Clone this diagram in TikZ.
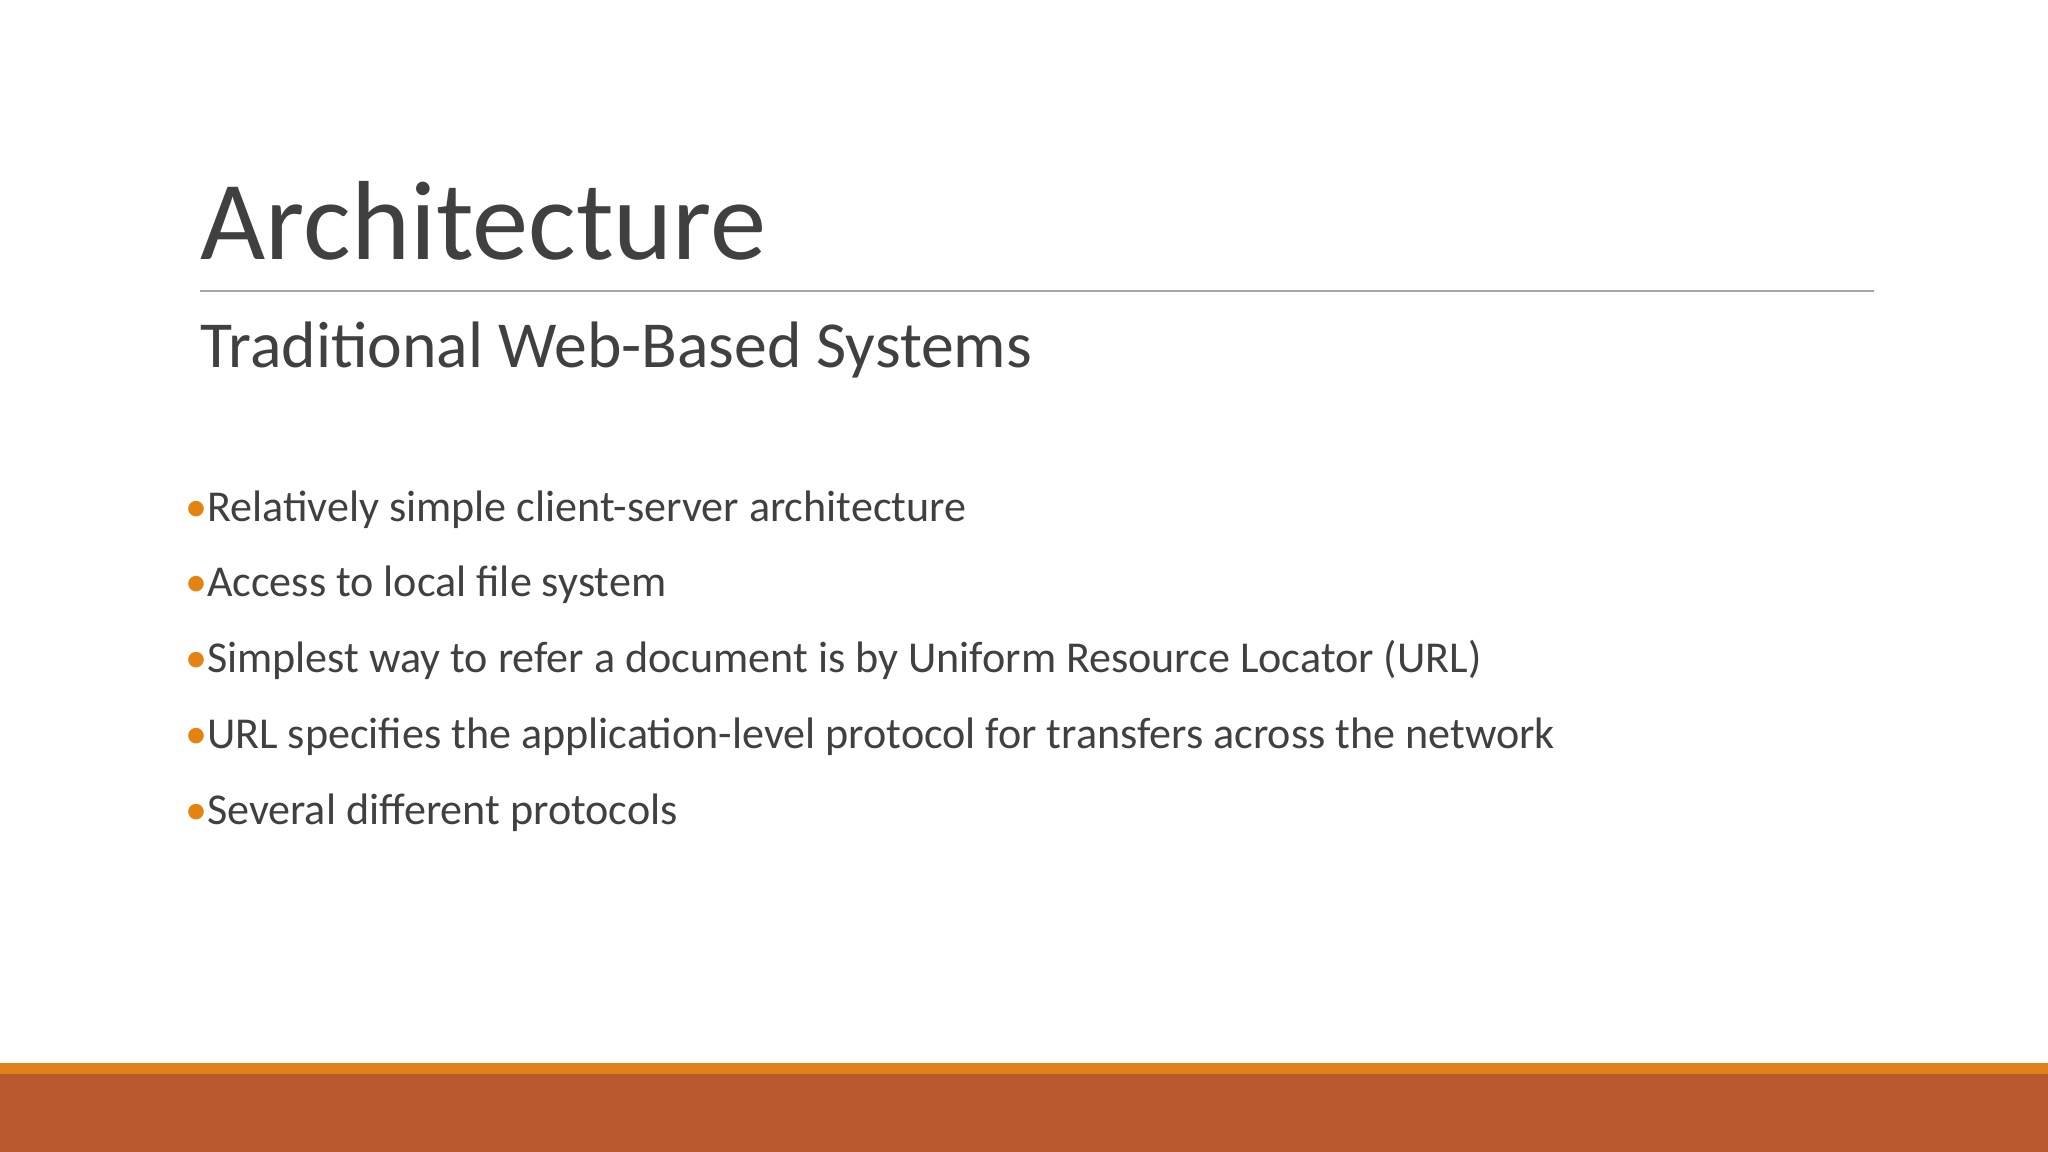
\documentclass[tikz,border=0pt]{standalone}
\usepackage{fontspec}
\setmainfont{Carlito}
\definecolor{txt}{HTML}{404040}
\definecolor{bul}{HTML}{E48312}
\definecolor{barA}{HTML}{E0801A}
\definecolor{barB}{HTML}{BA5830}
\begin{document}
\begin{tikzpicture}[x=0.01cm,y=-0.01cm,
  title/.style={anchor=base west,inner sep=0,text=txt,font=\fontsize{24.5}{28}\selectfont\addfontfeature{LetterSpace=0}},
  sub/.style={anchor=base west,inner sep=0,text=txt,font=\fontsize{14.3}{17}\selectfont},
  item/.style={anchor=base west,inner sep=0,text=txt,font=\fontsize{9.6}{12}\selectfont}]
\useasboundingbox (0,0) rectangle (1568,882);
\fill[white] (0,0) rectangle (1568,882);
\fill[barA] (0,814) rectangle (1568,823);
\fill[barB] (0,822) rectangle (1568,882);
\node[title] (t) at (153,199) {\addfontfeature{FakeStretch=1}\fontspec{Carlito}[Scale=1]\fontsize{24.5}{28}\selectfont Architecture};
\draw[gray!70,line width=0.4pt] (153,223) coordinate (l1) -- (1435,223) coordinate (l2);
\node[sub] (s) at (153,281) {Traditional Web-Based Systems};
\foreach \y/\t [count=\i] in {399/Relatively simple client-server architecture,
  457/Access to local file system,
  515/Simplest way to refer a document is by Uniform Resource Locator (URL),
  573/URL specifies the application-level protocol for transfers across the network,
  631/Several different protocols}{
  \node[item] (b\i) at (141,\y) {\textcolor{bul}{•}\t};
}
\end{tikzpicture}
\end{document}
